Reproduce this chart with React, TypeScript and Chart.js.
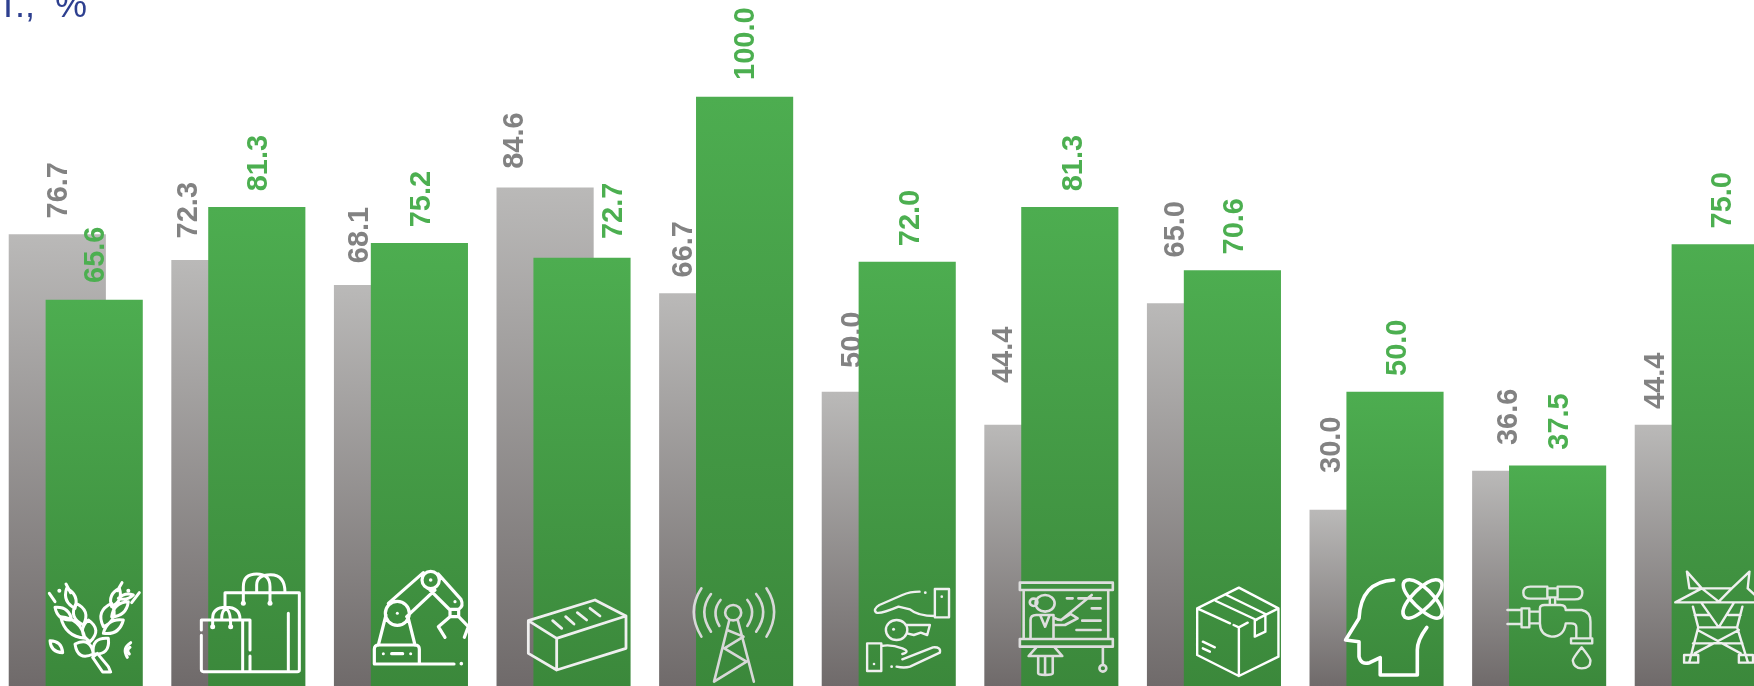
import React, { useEffect, useRef } from "react";
import { Chart, registerables } from "chart.js";

Chart.register(...registerables);

const categories = ["Agriculture", "Trade", "Industry", "Construction", "Communications", "Real estate", "Education", "Logistics", "Science", "Water supply", "Energy"];
const greyValues = [76.7, 72.3, 68.1, 84.6, 66.7, 50.0, 44.4, 65.0, 30.0, 36.6, 44.4];
const greenValues = [65.6, 81.3, 75.2, 72.7, 100.0, 72.0, 81.3, 70.6, 50.0, 37.5, 75.0];
const captionText = "Т.,  %";

// Label placement relative to the bar top and centre (px), kept apart from the values
const greyLabelShiftX = [0.5, -31.5, -24, -31.5, -25.2, -18.5, -29.5, -20.5, -27.5, -12.5, -28.5];
const greyLabelGap = [16, 22, 22, 19, 16, 24, 42, 46, 37, 26, 16];
const greenLabelShiftX = [1, 1.5, 1.5, 31, 0.5, 2.5, 3.5, 1.5, 1.5, 1.5, 1.5];
const greenLabelGap = [17, 16, 16, 19, 17, 16, 16, 16, 16, 16, 16];

const W = 1754;
const H = 687;
const PITCH = 162.6;
const BAR_W = 96.5;
const GREY_C0 = 57.3;
const GREEN_C0 = 94.2;

const leaf = (a: number, b: number, c: number, d: number, w: number) => {
  const mx = (a + c) / 2, my = (b + d) / 2;
  const dx = c - a, dy = d - b, l = Math.hypot(dx, dy) || 1;
  const nx = (-dy / l) * w, ny = (dx / l) * w;
  return `M${a} ${b}Q${mx + nx} ${my + ny} ${c} ${d}Q${mx - nx} ${my - ny} ${a} ${b}Z`;
};
const circ = (cx: number, cy: number, rx: number, ry: number) =>
  `M${cx - rx} ${cy}a${rx} ${ry} 0 1 0 ${2 * rx} 0a${rx} ${ry} 0 1 0 ${-2 * rx} 0Z`;

type Icon = { x0: number; y0: number; fx: number; fy: number; color: string; width: number; d: string; dots?: number[][] };

const icons: Icon[] = [
  {
    x0: 40, y0: 570, fx: 3, fy: 3, color: "#fff", width: 3,
    d: [
      "M188 306L158 262L172 250L205 290L212 306Z",
      leaf(160, 252, 105, 222, 42), leaf(160, 252, 205, 205, 40), leaf(150, 215, 145, 150, 40),
      leaf(135, 205, 62, 140, 36), leaf(130, 165, 108, 100, 36), leaf(95, 150, 45, 112, 28),
      leaf(105, 115, 80, 55, 28), leaf(190, 170, 215, 100, 38), leaf(190, 190, 250, 150, 32),
      leaf(215, 140, 265, 95, 28), leaf(215, 110, 238, 55, 26), leaf(235, 85, 280, 75, 14),
      "M28 70L45 95M78 42L92 68M246 38L232 62M298 68L275 98",
      leaf(30, 212, 68, 248, 24), "M272 218Q245 235 262 262M270 232Q258 240 268 252",
    ].join(""),
    dots: [[58, 62, 2], [265, 62, 2]],
  },
  {
    x0: 40, y0: 570, fx: 3, fy: 3, color: "#fff", width: 3,
    d: "M555 108V68H778V300Q778 305 772 305H490Q484 305 484 298V196M484 180V150H630V240M630 258V305M608 150V305M745 130V300" +
      "M610 100V50Q610 12 650 12Q690 12 690 50V100M650 68V45Q650 14 692 14Q735 14 735 68" +
      "M518 170V145Q518 112 558 112Q600 112 600 148M545 148Q545 120 558 118Q572 120 572 170",
    dots: [[610, 100, 2.5], [690, 100, 2.5], [518, 170, 2.5], [572, 170, 2.5]],
  },
  {
    x0: 360, y0: 560, fx: 3, fy: 3, color: "#fff", width: 3.2,
    d: "M43 312V268Q43 255 56 255H165Q178 255 178 268V312M43 312H282M55 255L78 165M165 255L145 175" +
      circ(112, 160, 36, 36) + circ(212, 60, 26, 26) +
      "M85 130L190 38M140 170L225 90M235 42L303 118Q312 138 296 148M205 85L270 150M270 148H296V170H270ZM270 170L235 200L255 232M296 170L325 200L313 232M95 281H128",
    dots: [[112, 160, 1.5], [212, 60, 1.8], [285, 125, 1.6], [70, 281, 1.5], [152, 281, 1.5], [304, 311, 1.8]],
  },
  {
    x0: 360, y0: 560, fx: 3, fy: 3, color: "#efefef", width: 2.8,
    d: "M505 182L705 120L798 168L590 235ZM505 182V280L590 330L798 265V168M590 235V330" +
      "M578 182L605 205M617 170L642 192M652 158L680 180M690 145L720 168",
  },
  {
    x0: 600, y0: 540, fx: 2.613, fy: 3, color: "#d8d8d8", width: 2.6,
    d: "M265 145Q225 215 265 290M290 162Q255 215 290 275M315 180Q290 215 312 258M435 145Q475 215 435 290M408 162Q445 215 408 275M385 180Q410 215 385 258" +
      circ(348, 218, 21, 23) +
      "M338 240L298 425M360 240L402 425M332 270L375 290M375 290L325 325M325 325L383 365M383 365L298 425",
  },
  {
    x0: 600, y0: 540, fx: 2.613, fy: 3, color: "#f0f0f0", width: 2.4,
    d: "M835 155Q810 155 790 165L730 195Q712 208 722 218Q735 222 780 200L810 208Q830 228 875 228M875 147H912V232H875Z" +
      circ(775, 270, 28, 30) + "M800 255H862L855 285L838 278L820 285L802 280" +
      "M698 310H735V393H698ZM735 318Q760 312 790 325Q812 335 790 342M790 358L870 322Q892 320 888 338L810 380Q795 385 775 380",
    dots: [[850, 158, 1.4], [893, 170, 1.3], [767, 268, 1.5], [716, 372, 1.3], [762, 380, 1.4]],
  },
  {
    x0: 600, y0: 540, fx: 2.613, fy: 3, color: "#dedede", width: 2.6,
    d: "M1097 128H1340V150H1097ZM1328 150V297M1107 150V297M1097 297H1340V320H1097ZM1314 320V375" + circ(1314, 385, 9, 10) +
      circ(1163, 190, 25, 25) + circ(1133, 187, 10, 11) +
      "M1205 240L1285 165M1220 175H1235M1250 175H1308M1285 205H1308M1260 242H1308M1245 270H1308" +
      "M1185 232Q1195 240 1205 240L1230 222L1248 235L1215 255H1185M1125 297V240Q1125 225 1140 225H1185V297M1140 322L1120 348H1208L1188 322" +
      "M1145 348V400Q1145 405 1163 405Q1183 405 1183 400V348M1163 348V405M1150 225L1163 260L1175 225",
  },
  {
    x0: 1200, y0: 540, fx: 2.83, fy: 3, color: "#fff", width: 2.4,
    d: "M85 250L-8 205L110 143L222 205L160 238M135 248L110 262L95 255M222 205V350L110 408L-8 345V205M110 262V408" +
      "M45 183L160 240M75 165L185 222M155 240V290L185 275V222M8 305L42 322M8 325L28 335",
  },
  {
    x0: 1200, y0: 540, fx: 2.83, fy: 3, color: "#fff", width: 3.6,
    d: "M548 120Q455 125 450 235L412 300L450 305V350Q455 375 480 368L510 353V405H615V330Q615 300 642 262" +
      "M578 125Q600 105 650 155Q700 210 680 232Q660 245 610 195Q565 145 578 125Z" +
      "M682 125Q660 105 610 155Q560 210 580 232Q600 245 650 195Q695 145 682 125Z",
  },
  {
    x0: 1200, y0: 540, fx: 2.83, fy: 3, color: "#e2e8e2", width: 2.4,
    d: "M983 145H1012V172H983ZM983 140H935Q915 140 915 158Q915 176 935 176H983M1012 140H1060Q1082 140 1082 158Q1082 178 1060 178H1012M990 172V195M1005 172V195" +
      "M962 250V205Q962 195 975 195H1020Q1035 195 1035 210H1080Q1105 215 1105 245V295M1065 295V262Q1065 250 1050 250H1035Q1030 290 995 290Q962 285 962 250" +
      "M870 210H910M870 252H910M910 205H932V262H910ZM932 215H962M932 250H962M1050 295H1110V310H1050Z" +
      "M1080 322Q1055 355 1055 362Q1058 385 1080 385Q1105 385 1105 362Q1105 355 1080 322Z",
  },
  {
    x0: 1200, y0: 540, fx: 2.83, fy: 3, color: "#f0f0f0", width: 2.4,
    d: "M1378 95L1420 145L1345 187H1570M1378 95L1385 145M1555 95L1505 145H1385M1555 95L1550 145M1420 145L1468 185L1505 145M1550 145L1570 165" +
      "M1395 200L1410 262L1385 365M1535 200L1520 262L1550 365M1410 262H1520M1420 190L1468 262L1510 190M1400 225H1440M1495 225H1530" +
      "M1408 270L1530 340M1525 270L1400 340M1395 310H1535M1370 345H1410V368H1370ZM1525 345H1565V368H1525Z",
  },
];

const drawLabel = (ctx: any, el: any, v: number, color: string, dx: number, gap: number) => {
  ctx.save();
  ctx.translate(el.x + dx, el.y - gap);
  ctx.rotate(-Math.PI / 2);
  ctx.font = 'bold 29px "Liberation Sans", Arial, sans-serif';
  ctx.fillStyle = color;
  ctx.textAlign = "left";
  ctx.textBaseline = "middle";
  ctx.fillText(v.toFixed(1), 0, 1);
  ctx.restore();
};

const overlayPlugin = {
  id: "overlay",
  // Grey labels sit under the green bars, so they are drawn right after the grey dataset.
  afterDatasetDraw(chart: any, args: any) {
    if (args.index !== 0) return;
    chart.getDatasetMeta(0).data.forEach((el: any, i: number) =>
      drawLabel(chart.ctx, el, greyValues[i], "#828282", greyLabelShiftX[i], greyLabelGap[i]));
  },
  afterDatasetsDraw(chart: any) {
    const { ctx } = chart;

    ctx.save();
    ctx.lineCap = "round";
    ctx.lineJoin = "round";
    icons.forEach((ic) => {
      const m = new DOMMatrix([1 / ic.fx, 0, 0, 1 / ic.fy, ic.x0, ic.y0]);
      const p = new Path2D();
      p.addPath(new Path2D(ic.d), m);
      ctx.strokeStyle = ic.color;
      ctx.lineWidth = ic.width;
      ctx.stroke(p);
      ctx.fillStyle = ic.color;
      (ic.dots || []).forEach(([x, y, r]) => {
        ctx.beginPath();
        ctx.arc(ic.x0 + x / ic.fx, ic.y0 + y / ic.fy, r, 0, Math.PI * 2);
        ctx.fill();
      });
    });
    ctx.restore();

    chart.getDatasetMeta(1).data.forEach((el: any, i: number) =>
      drawLabel(ctx, el, greenValues[i], "#4caf50", greenLabelShiftX[i], greenLabelGap[i]));

    ctx.save();
    ctx.font = '36px "Liberation Sans", Arial, sans-serif';
    ctx.fillStyle = "#2d3f8f";
    ctx.textBaseline = "alphabetic";
    ctx.fillText(captionText, -3, 17);
    ctx.restore();
  },
};

const barGradient = (top: string, bottom: string, values: number[]) => (c: any) => {
  const { chart, dataIndex } = c;
  if (dataIndex === undefined || !chart.scales.y) return top;
  const y = chart.scales.y;
  const y0 = y.getPixelForValue(values[dataIndex]);
  const y1 = y.getPixelForValue(0);
  if (!Number.isFinite(y0) || !Number.isFinite(y1)) return top;
  const g = chart.ctx.createLinearGradient(0, y0, 0, y1);
  g.addColorStop(0, top);
  g.addColorStop(1, bottom);
  return g;
};

export default function App() {
  const ref = useRef<HTMLCanvasElement | null>(null);
  useEffect(() => {
    if (!ref.current) return;
    const chart = new Chart(ref.current, {
      type: "bar",
      data: {
        labels: categories,
        datasets: [
          {
            label: "Grey",
            data: greyValues.map((y, x) => ({ x, y })),
            xAxisID: "xGrey",
            grouped: false,
            order: 2,
            barThickness: BAR_W,
            backgroundColor: barGradient("#bab9b8", "#6f6a6a", greyValues),
          },
          {
            label: "Green",
            data: greenValues.map((y, x) => ({ x, y })),
            xAxisID: "xGreen",
            grouped: false,
            order: 1,
            barThickness: BAR_W,
            backgroundColor: barGradient("#4dad50", "#3b883b", greenValues),
          },
        ],
      } as any,
      options: {
        animation: false,
        responsive: false,
        devicePixelRatio: 1,
        layout: { padding: 0 },
        events: [],
        plugins: { legend: { display: false }, title: { display: false }, tooltip: { enabled: false } },
        scales: {
          xGrey: { type: "linear", offset: false, display: false, min: -GREY_C0 / PITCH, max: (W - GREY_C0) / PITCH },
          xGreen: { type: "linear", offset: false, display: false, min: -GREEN_C0 / PITCH, max: (W - GREEN_C0) / PITCH },
          y: { display: false, min: 0, max: 116.44 },
        },
      } as any,
      plugins: [overlayPlugin],
    });
    return () => chart.destroy();
  }, []);
  return (
    <div style={{ position: "fixed", left: 0, top: 0, width: 1754, height: 686, overflow: "hidden", background: "#fff" }}>
      <canvas ref={ref} width={W} height={H} style={{ display: "block" }} />
    </div>
  );
}
